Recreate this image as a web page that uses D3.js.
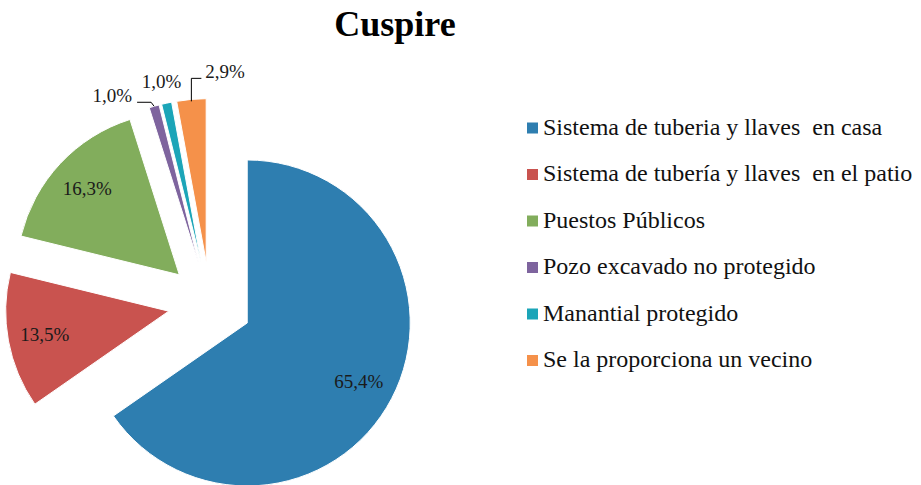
<!DOCTYPE html>
<html>
<head>
<meta charset="utf-8">
<script src="https://cdn.jsdelivr.net/npm/d3@7"></script>
<style>
  html, body { margin: 0; padding: 0; background: #fff; }
  svg { display: block; }
  text.pre { white-space: pre; }
</style>
</head>
<body>
<svg id="chart" width="921" height="485"></svg>
<script>
const title = "Cuspire";
const categories = [
  "Sistema de tuberia y llaves  en casa",
  "Sistema de tubería y llaves  en el patio",
  "Puestos Públicos",
  "Pozo excavado no protegido",
  "Manantial protegido",
  "Se la proporciona un vecino"
];
const values = [65.4, 13.5, 16.3, 1.0, 1.0, 2.9];
const valueLabels = ["65,4%", "13,5%", "16,3%", "1,0%", "1,0%", "2,9%"];
const colors = ["#2e7eb0", "#c9534f", "#82ad5c", "#7e649e", "#1ba5b8", "#f5914a"];

const svg = d3.select("#chart");
const cx = 210, cy = 303.5, R = 163, explode = 42;
const FONT = "'Liberation Serif', 'Times New Roman', serif";

svg.append("text")
  .attr("x", 395).attr("y", 36)
  .attr("text-anchor", "middle")
  .attr("font-family", FONT)
  .attr("font-weight", "bold")
  .attr("font-size", 36)
  .attr("fill", "#000")
  .text(title);

const data = categories.map((c, i) => ({ name: c, value: values[i], label: valueLabels[i], color: colors[i] }));

const pie = d3.pie().sort(null).value(d => d.value).startAngle(0).endAngle(2 * Math.PI);
const arcs = pie(data);
const arc = d3.arc().innerRadius(0).outerRadius(R);

const g = svg.append("g").attr("transform", `translate(${cx},${cy})`);

function offset(a, dist) {
  const mid = (a.startAngle + a.endAngle) / 2;
  return [Math.sin(mid) * dist, -Math.cos(mid) * dist];
}

const slices = g.selectAll("g.slice").data(arcs).enter().append("g")
  .attr("class", "slice")
  .attr("transform", d => { const o = offset(d, explode); return `translate(${o[0]},${o[1]})`; });

slices.append("path")
  .attr("d", arc)
  .attr("fill", d => d.data.color)
  .attr("stroke", "#fff")
  .attr("stroke-width", 1);

// inside labels for large slices
slices.filter(d => d.data.value > 5).append("text")
  .attr("x", d => offset(d, 126)[0])
  .attr("y", d => offset(d, 126)[1])
  .attr("text-anchor", "middle")
  .attr("dominant-baseline", "central")
  .attr("font-family", FONT)
  .attr("font-size", 19)
  .attr("fill", "#1a1a1a")
  .text(d => d.data.label);

// outside labels for small slices (offsets relative to outer edge midpoint)
const outside = {
  3: { dx: -22, dy: -4, anchor: "end", leader: p => [[p[0], p[1]], [p[0] - 3, p[1] - 4], [p[0] - 17, p[1] - 4]] },
  4: { dx: -5, dy: -15, anchor: "middle", leader: null },
  5: { dx: 14, dy: -21, anchor: "start", leader: p => [[p[0], p[1] + 2], [p[0], p[1] - 21], [p[0] + 10, p[1] - 21]] }
};
slices.each(function (d, i) {
  const cfg = outside[i];
  if (!cfg) return;
  const s = d3.select(this);
  const p = offset(d, R);
  if (cfg.leader) {
    s.append("path")
      .attr("d", d3.line()(cfg.leader(p)))
      .attr("fill", "none")
      .attr("stroke", "#000")
      .attr("stroke-width", 1);
  }
  s.append("text")
    .attr("x", p[0] + cfg.dx)
    .attr("y", p[1] + cfg.dy)
    .attr("text-anchor", cfg.anchor)
    .attr("font-family", FONT)
    .attr("font-size", 19)
    .attr("fill", "#1a1a1a")
    .text(d.data.label);
});

// legend (y positions are text baselines)
const legend = svg.append("g").attr("transform", "translate(527,0)");
const ly = d3.scalePoint().domain(categories).range([134.5, 367]);
const items = legend.selectAll("g").data(data).enter().append("g")
  .attr("transform", d => `translate(0,${ly(d.name)})`);
items.append("rect")
  .attr("x", 0).attr("y", -12).attr("width", 11).attr("height", 11)
  .attr("fill", d => d.color);
items.append("text")
  .attr("class", "pre")
  .attr("x", 16).attr("y", 0)
  .attr("font-family", FONT)
  .attr("font-size", 24)
  .attr("fill", "#111")
  .text(d => d.name);
</script>
</body>
</html>
